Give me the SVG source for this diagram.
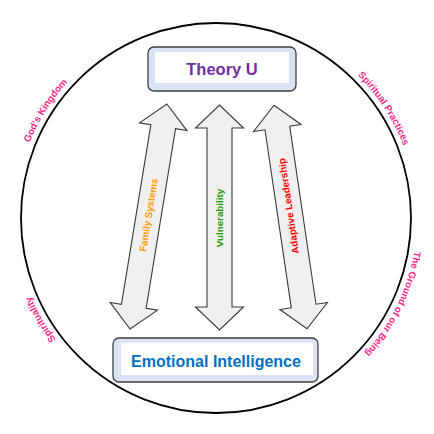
<svg xmlns="http://www.w3.org/2000/svg" xmlns:xlink="http://www.w3.org/1999/xlink" width="434" height="434" viewBox="0 0 434 434">
<style>
.arrow{fill:#f0f0f0;stroke:#3a3a3a;stroke-width:1.1;stroke-linejoin:miter}
.boxo{fill:#dae3f3;stroke:#3f3f3f;stroke-width:1.3}
.boxi{fill:#ffffff;stroke:none}
.lbl{font-family:"Liberation Sans",Arial,sans-serif;font-weight:bold;text-anchor:middle}
.arc{font-family:"Liberation Sans",Arial,sans-serif;font-weight:bold;font-size:9.7px;fill:#ff2a8a;text-anchor:middle}
.alab{font-family:"Liberation Sans",Arial,sans-serif;font-weight:bold;font-size:9.8px;text-anchor:middle}
</style>
<defs>
<path id="ring" d="M15,218 A201,201 0 1 1 417,218 A201,201 0 1 1 15,218"/>
</defs>
<g id="circle">
<circle cx="216" cy="218" r="195" fill="none" stroke="#000" stroke-width="1.8"/>
</g>
<g id="circle-labels">
<text class="arc"><textPath xlink:href="#ring" href="#ring" startOffset="113">God's Kingdom</textPath></text>
<text class="arc"><textPath xlink:href="#ring" href="#ring" startOffset="515">Spiritual Practices</textPath></text>
<text class="arc"><textPath xlink:href="#ring" href="#ring" startOffset="722">The Ground of our Being</textPath></text>
<text class="arc"><textPath xlink:href="#ring" href="#ring" startOffset="1157">Spirituality</textPath></text>
</g>
<g id="connectors">
<g id="arrow-family" transform="translate(148.5,216.5) rotate(9.3)">
<path class="arrow" d="M0,-114 L24,-91 L12.5,-91 L12.5,91 L24,91 L0,114 L-24,91 L-12.5,91 L-12.5,-91 L-24,-91 Z"/>
</g>
<g id="arrow-vuln" transform="translate(219.5,217.5)">
<path class="arrow" d="M0,-112.5 L24,-89.5 L12.5,-89.5 L12.5,89.5 L24,89.5 L0,112.5 L-24,89.5 L-12.5,89.5 L-12.5,-89.5 L-24,-89.5 Z"/>
</g>
<g id="arrow-adaptive" transform="translate(290.5,217) rotate(-8.4)">
<path class="arrow" d="M0,-113 L24,-90 L12.5,-90 L12.5,90 L24,90 L0,113 L-24,90 L-12.5,90 L-12.5,-90 L-24,-90 Z"/>
</g>
<text class="alab" fill="#ff9a00" transform="translate(148.5,215) rotate(-80.7)" x="0" y="3.5">Family Systems</text>
<text class="alab" fill="#1f9a00" transform="translate(219,218) rotate(-90)" x="0" y="3.5">Vulnerability</text>
<text class="alab" fill="#ff0000" transform="translate(288.5,206) rotate(-98.4)" x="0" y="3.5">Adaptive Leadership</text>
</g>
<g id="theory-u">
<rect class="boxo" x="148" y="47" width="148" height="44" rx="6"/>
<rect class="boxi" x="155" y="52" width="134" height="31"/>
<text class="lbl" x="222" y="75" font-size="16.5" fill="#7030a0">Theory U</text>
</g>
<g id="emotional-intelligence">
<rect class="boxo" x="113" y="338" width="205" height="44" rx="6"/>
<rect class="boxi" x="121" y="343" width="192" height="32"/>
<text class="lbl" x="216" y="366.5" font-size="16" fill="#0070c0">Emotional Intelligence</text>
</g>
</svg>
